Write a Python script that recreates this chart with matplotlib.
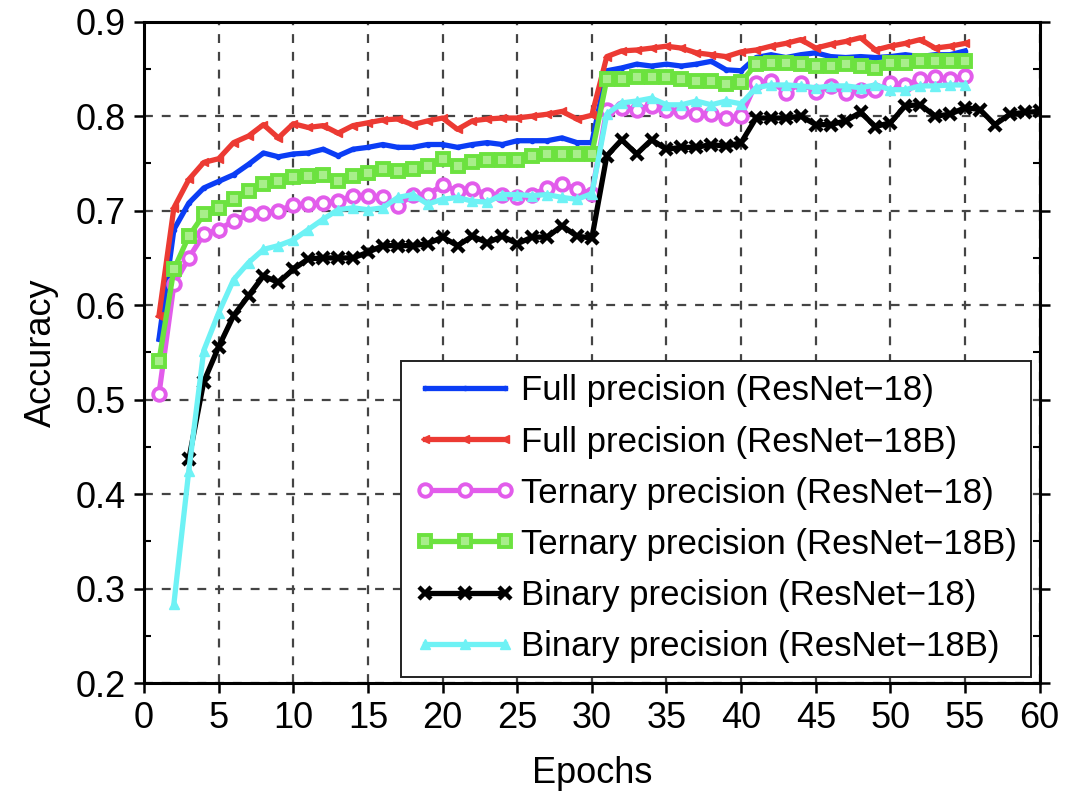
import matplotlib
matplotlib.use("Agg")
import matplotlib.pyplot as plt
import numpy as np
from matplotlib.ticker import MultipleLocator

# ---- data (accuracy per epoch) ----
ep_55 = list(range(1, 56))

full_r18 = [0.564, 0.680, 0.708, 0.724, 0.731, 0.738, 0.749, 0.761, 0.757, 0.760,
            0.761, 0.765, 0.758, 0.765, 0.767, 0.770, 0.767, 0.767, 0.770, 0.770,
            0.767, 0.770, 0.772, 0.770, 0.774, 0.774, 0.774, 0.777, 0.772, 0.772,
            0.848, 0.851, 0.855, 0.853, 0.855, 0.853, 0.855, 0.858, 0.849, 0.848,
            0.862, 0.865, 0.862, 0.865, 0.867, 0.863, 0.862, 0.863, 0.862, 0.863,
            0.865, 0.863, 0.865, 0.865, 0.869]

full_r18b = [0.589, 0.703, 0.733, 0.751, 0.755, 0.772, 0.779, 0.791, 0.777, 0.792,
             0.788, 0.790, 0.782, 0.790, 0.793, 0.796, 0.797, 0.791, 0.795, 0.798,
             0.786, 0.795, 0.797, 0.798, 0.798, 0.800, 0.802, 0.805, 0.797, 0.801,
             0.863, 0.869, 0.870, 0.872, 0.874, 0.872, 0.867, 0.865, 0.863, 0.868,
             0.870, 0.874, 0.877, 0.881, 0.872, 0.876, 0.879, 0.883, 0.870, 0.874,
             0.877, 0.881, 0.872, 0.874, 0.877]

tern_r18 = [0.506, 0.622, 0.650, 0.675, 0.680, 0.689, 0.696, 0.698, 0.700, 0.706,
            0.707, 0.708, 0.710, 0.716, 0.716, 0.714, 0.705, 0.717, 0.717, 0.727,
            0.721, 0.723, 0.717, 0.717, 0.714, 0.717, 0.724, 0.728, 0.723, 0.718,
            0.807, 0.809, 0.807, 0.811, 0.807, 0.805, 0.802, 0.802, 0.798, 0.800,
            0.835, 0.837, 0.825, 0.835, 0.826, 0.832, 0.825, 0.828, 0.828, 0.835,
            0.833, 0.839, 0.841, 0.839, 0.842]

tern_r18b = [0.541, 0.638, 0.673, 0.696, 0.703, 0.712, 0.721, 0.728, 0.731, 0.736,
             0.737, 0.738, 0.731, 0.737, 0.740, 0.744, 0.742, 0.744, 0.747, 0.755,
             0.747, 0.751, 0.754, 0.754, 0.754, 0.758, 0.760, 0.760, 0.760, 0.760,
             0.839, 0.839, 0.841, 0.841, 0.841, 0.839, 0.837, 0.837, 0.834, 0.836,
             0.855, 0.856, 0.856, 0.855, 0.853, 0.853, 0.855, 0.853, 0.851, 0.856,
             0.856, 0.858, 0.858, 0.858, 0.858]

ep_bin_r18 = list(range(3, 61))
bin_r18 = [0.437, 0.519, 0.556, 0.589, 0.610, 0.631, 0.624, 0.638,
           0.649, 0.650, 0.650, 0.650, 0.656, 0.663, 0.663, 0.663, 0.665, 0.672,
           0.663, 0.673, 0.666, 0.673, 0.665, 0.672, 0.672, 0.684, 0.673, 0.671,
           0.758, 0.775, 0.760, 0.775, 0.765, 0.767, 0.767, 0.770, 0.768, 0.772,
           0.798, 0.798, 0.798, 0.800, 0.791, 0.791, 0.795, 0.804, 0.789, 0.793,
           0.811, 0.812, 0.800, 0.802, 0.809, 0.807, 0.791, 0.802, 0.804, 0.805]

ep_bin_r18b = list(range(2, 56))
bin_r18b = [0.284, 0.425, 0.552, 0.592, 0.627, 0.645, 0.659, 0.663, 0.669,
            0.680, 0.691, 0.701, 0.703, 0.701, 0.703, 0.714, 0.717, 0.707, 0.712,
            0.714, 0.710, 0.709, 0.717, 0.717, 0.716, 0.717, 0.714, 0.712, 0.718,
            0.802, 0.814, 0.816, 0.819, 0.812, 0.812, 0.816, 0.812, 0.816, 0.813,
            0.830, 0.833, 0.833, 0.832, 0.830, 0.832, 0.832, 0.830, 0.833, 0.828,
            0.828, 0.832, 0.832, 0.833, 0.833]

labels = ["Full precision (ResNet\u221218)", "Full precision (ResNet\u221218B)",
          "Ternary precision (ResNet\u221218)", "Ternary precision (ResNet\u221218B)",
          "Binary precision (ResNet\u221218)", "Binary precision (ResNet\u221218B)"]

plt.rcParams.update({
    "font.family": ["Liberation Sans", "DejaVu Sans"],
    "font.size": 26,
})

fig = plt.figure(figsize=(10.83, 8.01), dpi=100)
ax = fig.add_axes([0.133, 0.147, 0.827, 0.826])

lw = 3.8
ax.plot(ep_55, full_r18, color="#0B3DF5", lw=lw, marker=".", ms=6, label=labels[0])
ax.plot(ep_55, full_r18b, color="#EC3A33", lw=lw, marker="<", ms=6, label=labels[1])
ax.plot(ep_55, tern_r18, color="#E25CEB", lw=lw, marker="o", ms=9, mew=2.8,
        mfc="white", label=labels[2])
ax.plot(ep_55, tern_r18b, color="#6CE23F", lw=lw, marker="s", ms=9, mew=2.8,
        mfc="#A8EE8A", label=labels[3])
ax.plot(ep_bin_r18, bin_r18, color="black", lw=lw, marker="x", ms=8, mew=3.2,
        label=labels[4])
ax.plot(ep_bin_r18b, bin_r18b, color="#6EF2F5", lw=lw, marker="^", ms=7,
        label=labels[5])

ax.set_xlim(0, 60)
ax.set_ylim(0.2, 0.9)
ax.set_xticks(range(0, 61, 5))
ax.set_yticks(np.arange(0.2, 0.91, 0.1))
ax.set_yticklabels([f"{v:.1f}" for v in np.arange(0.2, 0.91, 0.1)])
ax.yaxis.set_minor_locator(MultipleLocator(0.05))
ax.tick_params(which="major", direction="out", length=7, width=1.8, pad=6)
ax.tick_params(which="minor", direction="in", length=5, width=1.5,
               right=True)
ax.tick_params(axis="y", which="major", right=True)
for s in ax.spines.values():
    s.set_linewidth(2.2)

ax.grid(True, which="major", color="#444444", linestyle=(0, (4, 4)), lw=1.6)
ax.set_axisbelow(True)

ax.set_xlabel("Epochs", labelpad=14)
ax.set_ylabel("Accuracy", labelpad=12)

leg = ax.legend(loc="lower right", bbox_to_anchor=(0.99, 0.01), borderaxespad=0,
                fancybox=False, framealpha=1, edgecolor="#222222",
                numpoints=3, handlelength=2.9, handletextpad=0.15,
                labelspacing=0.52, borderpad=0.4, fontsize=25)
leg.get_frame().set_linewidth(1.4)

fig.savefig("out.png", dpi=100, facecolor="white")
